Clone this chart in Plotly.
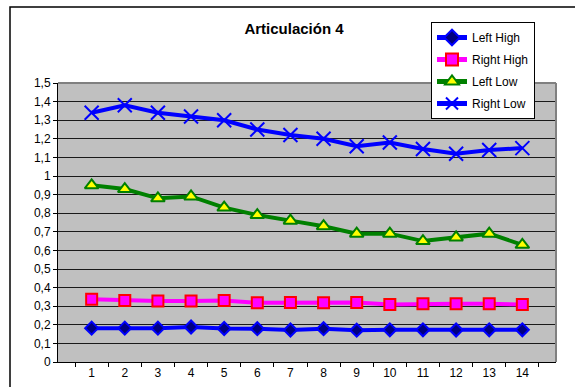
import plotly.graph_objects as go

categories = [str(i) for i in range(1, 15)]
left_high = [0.182, 0.182, 0.182, 0.188, 0.18, 0.179, 0.172, 0.179, 0.171, 0.173, 0.173, 0.172, 0.173, 0.173]
right_high = [0.338, 0.331, 0.328, 0.328, 0.331, 0.318, 0.32, 0.318, 0.32, 0.309, 0.313, 0.313, 0.313, 0.309]
left_low = [0.95, 0.93, 0.88, 0.89, 0.83, 0.79, 0.76, 0.73, 0.69, 0.69, 0.65, 0.67, 0.69, 0.63]
right_low = [1.34, 1.38, 1.34, 1.32, 1.30, 1.25, 1.22, 1.20, 1.16, 1.18, 1.145, 1.12, 1.14, 1.15]
y_ticks = [round(i * 0.1, 1) for i in range(16)]

W, H = 575, 387
L, R, T, B = 58, 19, 83, 25
pw, ph = W - L - R, H - T - B

fig = go.Figure()
fig.add_trace(go.Scatter(x=categories, y=left_high, name="Left High", mode="lines+markers",
                         legendgroup="a",
                         line=dict(color="#0000FF", width=4),
                         marker=dict(symbol="diamond", size=10, color="#000080",
                                     line=dict(color="#0000FF", width=2))))
fig.add_trace(go.Scatter(x=categories, y=right_high, name="Right High", mode="lines+markers",
                         legendgroup="b",
                         line=dict(color="#FF00FF", width=4),
                         marker=dict(symbol="square", size=11, color="#FF00FF",
                                     line=dict(color="#FF0000", width=2))))
fig.add_trace(go.Scatter(x=categories, y=left_low, name="Left Low", mode="lines+markers",
                         legendgroup="c",
                         line=dict(color="#008000", width=4),
                         marker=dict(symbol="triangle-up", size=12, color="#FFFF00",
                                     line=dict(color="#008000", width=2))))
fig.add_trace(go.Scatter(x=categories, y=right_low, name="Right Low", mode="lines+markers",
                         legendgroup="d",
                         line=dict(color="#0000FF", width=4),
                         marker=dict(symbol="x-thin", size=14, color="#0000FF",
                                     line=dict(color="#0000FF", width=2))))

# outer chart frame (cropped on right/bottom)
fx0 = (10 - L) / pw
fy1 = 1 + (T - 7) / ph
fig.add_shape(type="rect", xref="paper", yref="paper", x0=fx0, x1=1 + (R + 10) / pw,
              y0=-(B + 10) / ph, y1=fy1, line=dict(color="#000000", width=1.5), layer="below")
# plot area wall border (top/right)
fig.add_shape(type="line", xref="paper", yref="paper", x0=0, x1=1, y0=1, y1=1,
              line=dict(color="#808080", width=2))
fig.add_shape(type="line", xref="paper", yref="paper", x0=1, x1=1, y0=0, y1=1,
              line=dict(color="#808080", width=2))

fig.update_layout(
    width=W, height=H,
    margin=dict(l=L, r=R, t=T, b=B, autoexpand=False),
    paper_bgcolor="white",
    plot_bgcolor="#C0C0C0",
    separators=", ",
    font=dict(family="Liberation Sans, Arial, sans-serif", size=12, color="#000000"),
    title=dict(text="<b>Articulación 4</b>", x=294 / W, xref="container", xanchor="center",
               y=1 - 29 / H, yref="container", yanchor="middle",
               font=dict(size=15, color="#000000")),
    showlegend=True,
    legend=dict(x=(431 - L) / pw, xanchor="left", y=1 + (T - 22) / ph, yanchor="top",
                bgcolor="white", bordercolor="#000000", borderwidth=1,
                font=dict(size=12), tracegroupgap=3, traceorder="grouped",
                itemsizing="constant"),
    xaxis=dict(type="category", tickson="boundaries", ticks="outside", ticklen=4,
               tickcolor="#000000", showline=True, linecolor="#000000", linewidth=1,
               showgrid=False, zeroline=False, tickfont=dict(size=12)),
    yaxis=dict(range=[0, 1.5], tickvals=y_ticks, ticks="outside", ticklen=4,
               tickcolor="#000000", showline=True, linecolor="#000000", linewidth=1,
               showgrid=True, gridcolor="#1a1a1a", gridwidth=1, zeroline=False,
               tickfont=dict(size=12)),
)

fig.write_html("out.html", config={"displayModeBar": False},
               post_script="document.body.style.margin='0';")
